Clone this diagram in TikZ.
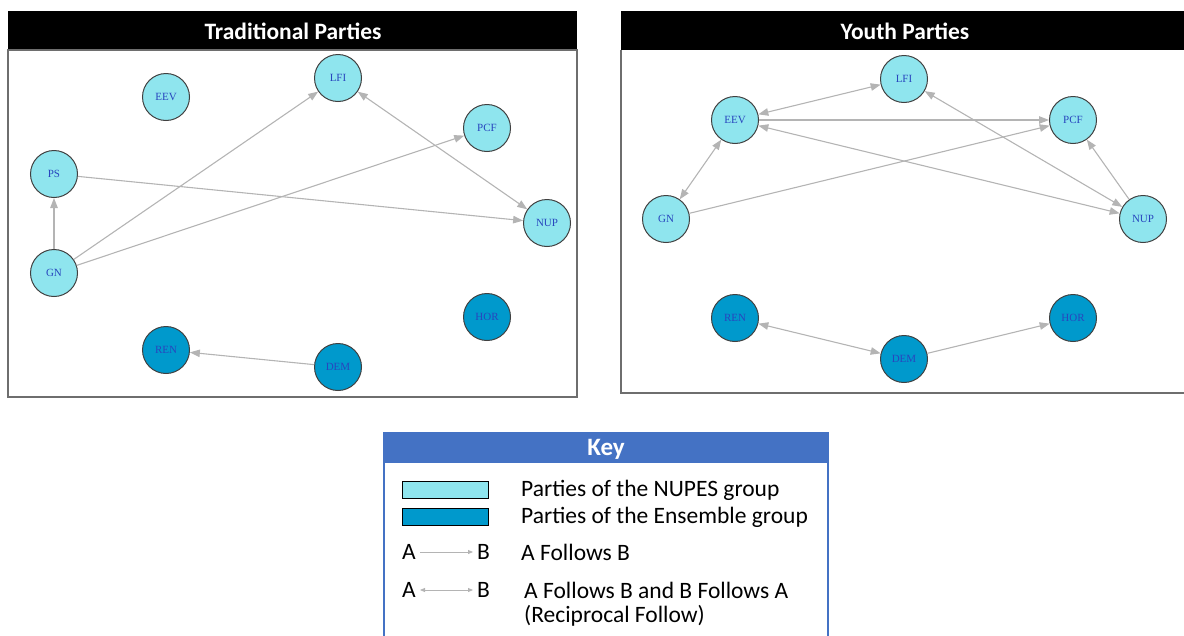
\documentclass[tikz,border=0pt]{standalone}
\usepackage{fontspec}
\setmainfont{Liberation Serif}
\newfontfamily\keyfont{Carlito}
\usetikzlibrary{arrows.meta,positioning}

\definecolor{nupes}{RGB}{143,229,238}
\definecolor{ensemble}{RGB}{0,153,204}
\definecolor{labelblue}{RGB}{40,70,190}
\definecolor{edgegray}{RGB}{180,180,180}
\definecolor{keyblue}{RGB}{68,114,196}
\definecolor{framegray}{RGB}{110,110,110}

\tikzset{
	party/.style={circle, draw=black!75, line width=1pt, minimum size=47pt, inner sep=0pt,
		font=\fontsize{11}{12}\selectfont, text=labelblue},
	nupesparty/.style={party, fill=nupes},
	ensparty/.style={party, fill=ensemble},
	follow/.style={draw=edgegray, line width=1.1pt, -{Triangle[length=10pt,width=7.5pt]}},
	mutual/.style={follow, {Triangle[length=10pt,width=7.5pt]}-{Triangle[length=10pt,width=7.5pt]}},
	panel/.style={draw=framegray, line width=1.3pt},
	paneltitle/.style={text=white, font=\keyfont\bfseries\fontsize{23.5}{25}\selectfont},
	keytext/.style={anchor=west, font=\keyfont\fontsize{23.5}{26}\selectfont, inner sep=0pt},
	keyarrow/.style={draw=edgegray, line width=0.8pt, shorten >=4pt, shorten <=4pt,
		-{Triangle[length=5pt,width=4pt]}},
}

\begin{document}
\begin{tikzpicture}[x=1pt,y=-1pt]
	\useasboundingbox (0,0) rectangle (1184,635);

	% traditional parties
	\fill[black] (8,11) rectangle (577,50);
	\draw[panel] (8,50) rectangle (577,397);
	\node[paneltitle] (tradTitle) at (293,31) {Traditional Parties};

	\node[nupesparty] (tLFI) at (338,78) {LFI};
	\node[nupesparty] (tEEV) at (166,97) {EEV};
	\node[nupesparty] (tPCF) at (487,128) {PCF};
	\node[nupesparty] (tPS) at (54,174) {PS};
	\node[nupesparty] (tNUP) at (547,223) {NUP};
	\node[nupesparty] (tGN) at (54,273) {GN};
	\node[ensparty] (tHOR) at (487,317) {HOR};
	\node[ensparty] (tREN) at (166,350) {REN};
	\node[ensparty] (tDEM) at (338,367) {DEM};

	\draw[follow] (tGN) -- (tPS);
	\draw[follow] (tGN) -- (tLFI);
	\draw[follow] (tGN) -- (tPCF);
	\draw[follow] (tPS) -- (tNUP);
	\draw[mutual] (tLFI) -- (tNUP);
	\draw[follow] (tDEM) -- (tREN);

	% youth parties
	\fill[black] (621,11) rectangle (1184,50);
	\draw[panel] (1184,393) -- (621,393) -- (621,50);
	\node[paneltitle] (youthTitle) at (905,31) {Youth Parties};

	\node[nupesparty] (yLFI) at (904,79) {LFI};
	\node[nupesparty] (yEEV) at (735,120) {EEV};
	\node[nupesparty] (yPCF) at (1073,120) {PCF};
	\node[nupesparty] (yGN) at (666,219) {GN};
	\node[nupesparty] (yNUP) at (1143,219) {NUP};
	\node[ensparty] (yREN) at (735,318) {REN};
	\node[ensparty] (yHOR) at (1073,318) {HOR};
	\node[ensparty] (yDEM) at (904,359) {DEM};

	\draw[mutual] (yEEV) -- (yLFI);
	\draw[follow] (yEEV) -- (yPCF);
	\draw[mutual] (yEEV) -- (yNUP);
	\draw[mutual] (yGN) -- (yEEV);
	\draw[follow] (yGN) -- (yPCF);
	\draw[mutual] (yLFI) -- (yNUP);
	\draw[follow] (yNUP) -- (yPCF);
	\draw[mutual] (yREN) -- (yDEM);
	\draw[follow] (yDEM) -- (yHOR);

	% key
	\fill[keyblue] (384,433) rectangle (828,463);
	\draw[keyblue, line width=1.5pt] (384,636) -- (384,433) -- (828,433) -- (828,636);
	\node[text=white, font=\keyfont\bfseries\fontsize{25}{27}\selectfont] (keyTitle) at (606,449) {Key};

	\draw[black, line width=0.9pt, fill=nupes] (402,481) rectangle (488,498);
	\draw[black, line width=0.9pt, fill=ensemble] (402,508) rectangle (488,525);
	\node[keytext] (nupesText) at (521,490) {Parties of the NUPES group};
	\node[keytext] (ensText) at (521,517) {Parties of the Ensemble group};

	\node[keytext] (a1) at (402,552) {A};
	\node[keytext] (b1) at (477,552) {B};
	\draw[keyarrow] (a1) -- (b1);
	\node[keytext] (followText) at (521,552) {A Follows B};

	\node[keytext] (a2) at (402,590) {A};
	\node[keytext] (b2) at (477,590) {B};
	\draw[keyarrow, {Triangle[length=5pt,width=4pt]}-{Triangle[length=5pt,width=4pt]}] (a2) -- (b2);
	\node[keytext] (mutualText) at (524,590) {A Follows B and B Follows A};
	\node[keytext] (mutualText2) at (524,616) {(Reciprocal Follow)};
\end{tikzpicture}
\end{document}
